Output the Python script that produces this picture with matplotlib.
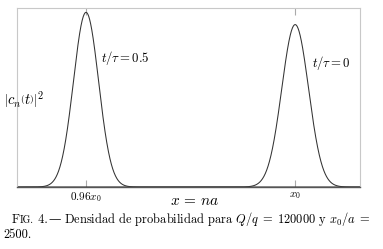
import numpy as np
import matplotlib
matplotlib.use("Agg")
import matplotlib.pyplot as plt
from matplotlib.transforms import IdentityTransform

plt.rcParams['mathtext.fontset'] = 'cm'

# Data: x = n a, with x0/a = 2500
x0 = 2500
peak_labels = [r"$t/\tau = 0.5$", r"$t/\tau = 0$"]
peak_centers = [0.96 * x0, x0]        # 2400, 2500
peak_heights = [1.0, 0.93]            # relative
peak_widths = [6.0, 6.4]              # gaussian sigma in units of a
tick_positions = [0.96 * x0, x0]
tick_labels = [r"$0.96x_0$", r"$x_0$"]
x_range = [2367, 2531]

serif = ['cmr10', 'DejaVu Serif']

fig = plt.figure(figsize=(3.83, 2.49), dpi=100)
ax = fig.add_axes([17/383, 1 - 187/249, (360-17)/383, (187-8)/249])

x = np.linspace(x_range[0], x_range[1], 2000)
for c, h, s in zip(peak_centers, peak_heights, peak_widths):
    ax.plot(x, h * np.exp(-0.5 * ((x - c) / s) ** 2), color='#333333', lw=0.75)

ax.set_xlim(*x_range)
ax.set_ylim(0, 1.025)
for side in ['top', 'left', 'right']:
    ax.spines[side].set_color('#c8c8c8')
    ax.spines[side].set_linewidth(0.8)
ax.spines['bottom'].set_color('#555555')
ax.spines['bottom'].set_linewidth(1.0)
ax.set_yticks([])
ax.set_xticks(tick_positions)
ax.set_xticklabels(tick_labels, fontsize=8)
ax.tick_params(axis='x', direction='in', length=5, color='#aaaaaa', top=True, pad=2)

ax.text(2407, 0.74, peak_labels[0], fontsize=9.2, ha='left', va='center')
ax.text(2508, 0.71, peak_labels[1], fontsize=9.2, ha='left', va='center')

fig.text(4/383, 1 - 100/249, r"$\left|c_n\left(t\right)\right|^2$", fontsize=10.5, ha='left', va='center')
fig.text(195/383, 1 - 200/249, r"$x\,=\,na$", fontsize=11, ha='center', va='center')

# caption, built from chained pieces (small caps "FIG.")
fig.canvas.draw()
r = fig.canvas.get_renderer()
xpix = 12
ybase = 249 - 223
cfs = 8.95
pieces = [("F", cfs, serif), ("IG.", cfs * 0.8, serif), (" 4.", cfs, serif),
          ("\u2014", cfs, ['DejaVu Serif']),
          (r" Densidad de probabilidad para $Q/q\;=\;120000$ y $x_0/a\;=$", cfs, serif)]
for txt, fs, fam in pieces:
    t = fig.text(xpix, ybase, txt, fontsize=fs, family=fam, ha='left', va='baseline',
                 transform=IdentityTransform())
    xpix = t.get_window_extent(r).x1
fig.text(3/383, 1 - 238/249, "2500.", fontsize=cfs, family=serif, ha='left', va='baseline')

fig.savefig("out.png", dpi=100)
